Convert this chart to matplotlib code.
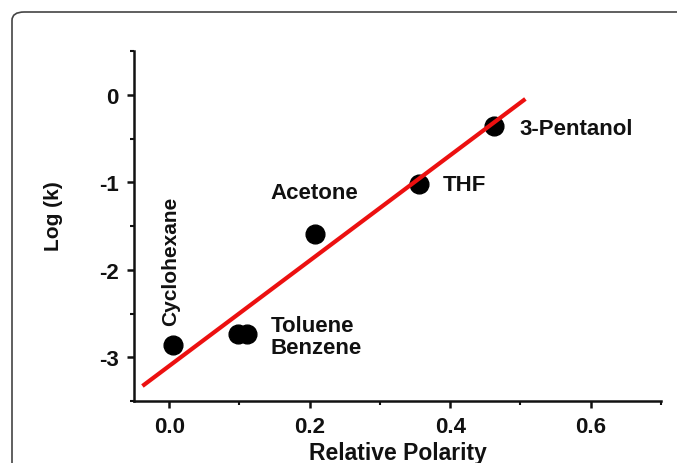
import matplotlib
matplotlib.use("Agg")
import matplotlib.pyplot as plt
from matplotlib.patches import FancyBboxPatch
from matplotlib.ticker import MultipleLocator
import numpy as np

plt.rcParams['font.family'] = ['Liberation Sans', 'DejaVu Sans']

# Data
solvents = ["Cyclohexane", "Toluene", "Benzene", "Acetone", "THF", "3-Pentanol"]
polarity = [0.006, 0.098, 0.111, 0.207, 0.355, 0.463]
logk = [-2.86, -2.73, -2.73, -1.59, -1.02, -0.355]

fit_slope = 6.02
fit_intercept = -3.10
fit_range = [-0.038, 0.507]

xticks = [0.0, 0.2, 0.4, 0.6]
xticklabels = ["0.0", "0.2", "0.4", "0.6"]
yticks = [0, -1, -2, -3]
yticklabels = ["0", "-1", "-2", "-3"]

# label offsets in pixels (dx, dy), alignment
label_style = {
    "Cyclohexane": dict(off=(-3, 20), ha="center", va="bottom", rot=90, fs=15),
    "Toluene": dict(off=(33, 8), ha="left", va="center", rot=0, fs=16),
    "Benzene": dict(off=(23, -14), ha="left", va="center", rot=0, fs=16),
    "Acetone": dict(off=(-44, 41), ha="left", va="center", rot=0, fs=16),
    "THF": dict(off=(24, -1), ha="left", va="center", rot=0, fs=16),
    "3-Pentanol": dict(off=(25, -3), ha="left", va="center", rot=0, fs=16),
}

W, H = 677, 464
fig = plt.figure(figsize=(W / 100, H / 100), dpi=100)

# rounded frame around the figure (cropped at right/bottom)
frame = FancyBboxPatch((12 / W, -0.1), 1.2, (H - 13) / H + 0.1,
                       boxstyle="round,pad=0,rounding_size=0.018",
                       transform=fig.transFigure, fill=False,
                       edgecolor="#444444", linewidth=1.2, zorder=0)
fig.patches.append(frame)

ax = fig.add_axes([134 / W, 1 - 402 / H, (661 - 134) / W, (402 - 52) / H])
ax.set_xlim(-0.05, 0.7)
ax.set_ylim(-3.5, 0.5)

fx = np.array(fit_range)
ax.plot(fx, fit_slope * fx + fit_intercept, color="#ec1010", lw=3.0, zorder=3,
        solid_capstyle="butt")
ax.plot(polarity, logk, "o", color="black", markersize=13.5, zorder=2)

for name, x, y in zip(solvents, polarity, logk):
    s = label_style[name]
    ax.annotate(name, (x, y), xytext=s["off"], textcoords="offset pixels",
                ha=s["ha"], va=s["va"], rotation=s["rot"],
                fontsize=s["fs"], fontweight="bold", color="#111111")

for side in ["top", "right"]:
    ax.spines[side].set_visible(False)
for side in ["left", "bottom"]:
    ax.spines[side].set_linewidth(1.8)
    ax.spines[side].set_color("#111111")

ax.set_xticks(xticks)
ax.set_xticklabels(xticklabels)
ax.set_yticks(yticks)
ax.set_yticklabels(yticklabels)
ax.xaxis.set_minor_locator(MultipleLocator(0.1))
ax.yaxis.set_minor_locator(MultipleLocator(0.5))
ax.tick_params(which="major", direction="out", length=5, width=1.8,
               labelsize=16, pad=6, color="#111111", labelcolor="#111111")
ax.tick_params(which="minor", direction="out", length=3, width=1.5,
               color="#111111")
for lab in ax.get_xticklabels() + ax.get_yticklabels():
    lab.set_fontweight("bold")

ax.set_xlabel("Relative Polarity", fontsize=16.5, fontweight="bold", color="#111111")
ax.set_ylabel("Log (k)", fontsize=15, fontweight="bold", color="#111111")
ax.xaxis.set_label_coords(0.5, -0.115)
ax.yaxis.set_label_coords(-0.135, 0.53)

fig.savefig("out.png", dpi=100)
